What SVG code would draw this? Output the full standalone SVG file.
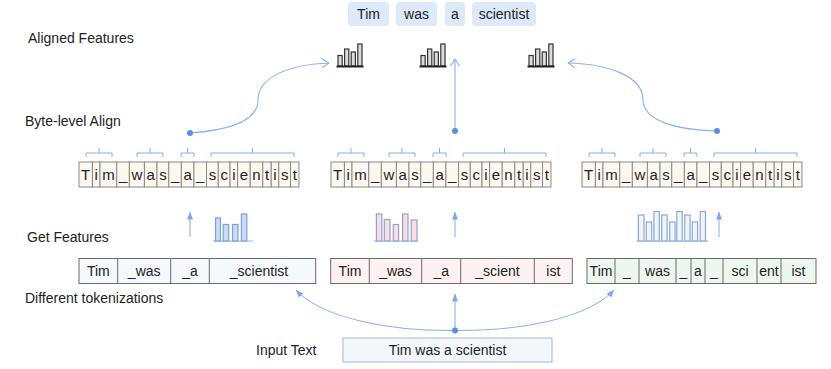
<svg xmlns="http://www.w3.org/2000/svg" width="831" height="369" viewBox="0 0 831 369">
<style>
text{font-family:"Liberation Sans",Arial,sans-serif;fill:#222}
.lbl{font-size:14px}
.tok{font-size:14px;text-anchor:middle}
.b{font-size:15px;text-anchor:middle}
.top{fill:#dde8f8}
.bc{fill:#fdf8ef;stroke:#8a8a8a;stroke-width:1}
.brk{fill:none;stroke:#86aee8;stroke-width:1}
.tc{stroke:#6a6a6a;stroke-width:1}
.ln{fill:none;stroke:#8ab0ee;stroke-width:1.1}
.dot{fill:#5a8ee6}
.ib{fill:#dcdcdc;stroke:#333;stroke-width:1.2}
.blue{fill:#c9dbf6;stroke:#7e9fd8;stroke-width:1.2}
.pink{fill:#f9dde0;stroke:#8ea3d3;stroke-width:1.2}
.hol{fill:#eff5fc;stroke:#8ea8d6;stroke-width:1.2}
.base{stroke:#c6d8f3;stroke-width:2}
</style>
<defs>
<marker id="af" viewBox="0 0 8 6" refX="7.5" refY="3" markerWidth="8" markerHeight="6" markerUnits="userSpaceOnUse" orient="auto">
<path d="M0,0 L8,3 L0,6 z" fill="#7ea8ec"/>
</marker>
<marker id="ao" viewBox="0 0 8 10" refX="7.5" refY="5" markerWidth="8" markerHeight="10" markerUnits="userSpaceOnUse" orient="auto">
<path d="M0.5,0.5 L7.5,5 L0.5,9.5" fill="none" stroke="#8ab0ee" stroke-width="1.1"/>
</marker>
</defs>

<g id="labels">
<text class="lbl" x="28" y="43">Aligned Features</text>
<text class="lbl" x="25" y="126">Byte-level Align</text>
<text class="lbl" x="27" y="242">Get Features</text>
<text class="lbl" x="25" y="303">Different tokenizations</text>
<text class="lbl" x="256" y="355">Input Text</text>
</g>

<g id="top-tokens">
<rect class="top" x="348" y="2" width="41" height="24" rx="4"/>
<rect class="top" x="396" y="2" width="41" height="24" rx="4"/>
<rect class="top" x="445" y="2" width="20" height="24" rx="4"/>
<rect class="top" x="472" y="2" width="64" height="24" rx="4"/>
<text class="tok" x="368.5" y="19">Tim</text>
<text class="tok" x="416.5" y="19">was</text>
<text class="tok" x="455" y="19">a</text>
<text class="tok" x="504" y="19">scientist</text>
</g>

<g id="aligned-icon-1" transform="translate(337,44)">
<rect class="ib" x="1" y="11.5" width="4.2" height="10.5"/>
<rect class="ib" x="7.6" y="5" width="4.2" height="17"/>
<rect class="ib" x="14.2" y="8" width="4.2" height="14"/>
<rect class="ib" x="20.8" y="0" width="4.2" height="22"/>
<line x1="-0.5" y1="22.5" x2="26.5" y2="22.5" stroke="#222" stroke-width="2"/>
</g>
<g id="aligned-icon-2" transform="translate(420,44)">
<rect class="ib" x="1" y="11.5" width="4.2" height="10.5"/>
<rect class="ib" x="7.6" y="5" width="4.2" height="17"/>
<rect class="ib" x="14.2" y="8" width="4.2" height="14"/>
<rect class="ib" x="20.8" y="0" width="4.2" height="22"/>
<line x1="-0.5" y1="22.5" x2="26.5" y2="22.5" stroke="#222" stroke-width="2"/>
</g>
<g id="aligned-icon-3" transform="translate(528,44)">
<rect class="ib" x="1" y="11.5" width="4.2" height="10.5"/>
<rect class="ib" x="7.6" y="5" width="4.2" height="17"/>
<rect class="ib" x="14.2" y="8" width="4.2" height="14"/>
<rect class="ib" x="20.8" y="0" width="4.2" height="22"/>
<line x1="-0.5" y1="22.5" x2="26.5" y2="22.5" stroke="#222" stroke-width="2"/>
</g>

<g id="byte-row-1" transform="translate(79,162)">
<path class="brk" d="M7,-5V-9H33V-5M20,-9V-14M58,-5V-9H84V-5M71,-9V-14M102,-5V-9H115V-5M108.5,-9V-14M132,-5V-9H215V-5M173.5,-9V-14"/>
<rect class="bc" x="0" y="0" width="13.42" height="25"/><rect class="bc" x="13.42" y="0" width="7.58" height="25"/><rect class="bc" x="21" y="0" width="16.75" height="25"/><rect class="bc" x="37.75" y="0" width="12.59" height="25"/><rect class="bc" x="50.34" y="0" width="15.08" height="25"/><rect class="bc" x="65.42" y="0" width="12.59" height="25"/><rect class="bc" x="78.01" y="0" width="11.75" height="25"/><rect class="bc" x="89.76" y="0" width="12.59" height="25"/><rect class="bc" x="102.35" y="0" width="12.59" height="25"/><rect class="bc" x="114.94" y="0" width="12.59" height="25"/><rect class="bc" x="127.53" y="0" width="11.75" height="25"/><rect class="bc" x="139.28" y="0" width="11.75" height="25"/><rect class="bc" x="151.03" y="0" width="7.58" height="25"/><rect class="bc" x="158.61" y="0" width="12.59" height="25"/><rect class="bc" x="171.2" y="0" width="12.59" height="25"/><rect class="bc" x="183.79" y="0" width="8.42" height="25"/><rect class="bc" x="192.21" y="0" width="7.58" height="25"/><rect class="bc" x="199.79" y="0" width="11.75" height="25"/><rect class="bc" x="211.54" y="0" width="8.42" height="25"/>
<text class="b" y="18"><tspan x="6.71">T</tspan><tspan x="17.21">i</tspan><tspan x="29.38">m</tspan><tspan x="44.05">_</tspan><tspan x="57.88">w</tspan><tspan x="71.72">a</tspan><tspan x="83.89">s</tspan><tspan x="96.06">_</tspan><tspan x="108.65">a</tspan><tspan x="121.24">_</tspan><tspan x="133.41">s</tspan><tspan x="145.16">c</tspan><tspan x="154.82">i</tspan><tspan x="164.91">e</tspan><tspan x="177.5">n</tspan><tspan x="188">t</tspan><tspan x="196">i</tspan><tspan x="205.67">s</tspan><tspan x="215.75">t</tspan></text>
</g>

<g id="byte-row-2" transform="translate(331,162)">
<path class="brk" d="M7,-5V-9H33V-5M20,-9V-14M58,-5V-9H84V-5M71,-9V-14M102,-5V-9H115V-5M108.5,-9V-14M132,-5V-9H215V-5M173.5,-9V-14"/>
<rect class="bc" x="0" y="0" width="13.42" height="25"/><rect class="bc" x="13.42" y="0" width="7.58" height="25"/><rect class="bc" x="21" y="0" width="16.75" height="25"/><rect class="bc" x="37.75" y="0" width="12.59" height="25"/><rect class="bc" x="50.34" y="0" width="15.08" height="25"/><rect class="bc" x="65.42" y="0" width="12.59" height="25"/><rect class="bc" x="78.01" y="0" width="11.75" height="25"/><rect class="bc" x="89.76" y="0" width="12.59" height="25"/><rect class="bc" x="102.35" y="0" width="12.59" height="25"/><rect class="bc" x="114.94" y="0" width="12.59" height="25"/><rect class="bc" x="127.53" y="0" width="11.75" height="25"/><rect class="bc" x="139.28" y="0" width="11.75" height="25"/><rect class="bc" x="151.03" y="0" width="7.58" height="25"/><rect class="bc" x="158.61" y="0" width="12.59" height="25"/><rect class="bc" x="171.2" y="0" width="12.59" height="25"/><rect class="bc" x="183.79" y="0" width="8.42" height="25"/><rect class="bc" x="192.21" y="0" width="7.58" height="25"/><rect class="bc" x="199.79" y="0" width="11.75" height="25"/><rect class="bc" x="211.54" y="0" width="8.42" height="25"/>
<text class="b" y="18"><tspan x="6.71">T</tspan><tspan x="17.21">i</tspan><tspan x="29.38">m</tspan><tspan x="44.05">_</tspan><tspan x="57.88">w</tspan><tspan x="71.72">a</tspan><tspan x="83.89">s</tspan><tspan x="96.06">_</tspan><tspan x="108.65">a</tspan><tspan x="121.24">_</tspan><tspan x="133.41">s</tspan><tspan x="145.16">c</tspan><tspan x="154.82">i</tspan><tspan x="164.91">e</tspan><tspan x="177.5">n</tspan><tspan x="188">t</tspan><tspan x="196">i</tspan><tspan x="205.67">s</tspan><tspan x="215.75">t</tspan></text>
</g>

<g id="byte-row-3" transform="translate(582,162)">
<path class="brk" d="M7,-5V-9H33V-5M20,-9V-14M58,-5V-9H84V-5M71,-9V-14M102,-5V-9H115V-5M108.5,-9V-14M132,-5V-9H215V-5M173.5,-9V-14"/>
<rect class="bc" x="0" y="0" width="13.42" height="25"/><rect class="bc" x="13.42" y="0" width="7.58" height="25"/><rect class="bc" x="21" y="0" width="16.75" height="25"/><rect class="bc" x="37.75" y="0" width="12.59" height="25"/><rect class="bc" x="50.34" y="0" width="15.08" height="25"/><rect class="bc" x="65.42" y="0" width="12.59" height="25"/><rect class="bc" x="78.01" y="0" width="11.75" height="25"/><rect class="bc" x="89.76" y="0" width="12.59" height="25"/><rect class="bc" x="102.35" y="0" width="12.59" height="25"/><rect class="bc" x="114.94" y="0" width="12.59" height="25"/><rect class="bc" x="127.53" y="0" width="11.75" height="25"/><rect class="bc" x="139.28" y="0" width="11.75" height="25"/><rect class="bc" x="151.03" y="0" width="7.58" height="25"/><rect class="bc" x="158.61" y="0" width="12.59" height="25"/><rect class="bc" x="171.2" y="0" width="12.59" height="25"/><rect class="bc" x="183.79" y="0" width="8.42" height="25"/><rect class="bc" x="192.21" y="0" width="7.58" height="25"/><rect class="bc" x="199.79" y="0" width="11.75" height="25"/><rect class="bc" x="211.54" y="0" width="8.42" height="25"/>
<text class="b" y="18"><tspan x="6.71">T</tspan><tspan x="17.21">i</tspan><tspan x="29.38">m</tspan><tspan x="44.05">_</tspan><tspan x="57.88">w</tspan><tspan x="71.72">a</tspan><tspan x="83.89">s</tspan><tspan x="96.06">_</tspan><tspan x="108.65">a</tspan><tspan x="121.24">_</tspan><tspan x="133.41">s</tspan><tspan x="145.16">c</tspan><tspan x="154.82">i</tspan><tspan x="164.91">e</tspan><tspan x="177.5">n</tspan><tspan x="188">t</tspan><tspan x="196">i</tspan><tspan x="205.67">s</tspan><tspan x="215.75">t</tspan></text>
</g>

<g id="features-1">
<line class="base" x1="213" y1="241" x2="253" y2="241"/>
<rect class="blue" x="215.5" y="218" width="5" height="23"/>
<rect class="blue" x="223.2" y="224.5" width="5.5" height="16.5"/>
<rect class="blue" x="232.5" y="224.5" width="5.5" height="16.5"/>
<rect class="blue" x="241.4" y="214" width="5.4" height="27"/>
</g>
<g id="features-2">
<line class="base" x1="373.5" y1="241" x2="418.5" y2="241"/>
<rect class="pink" x="376.4" y="214" width="5.4" height="27"/>
<rect class="pink" x="384.3" y="219.5" width="5.7" height="21.5"/>
<rect class="pink" x="393.3" y="224.5" width="5.3" height="16.5"/>
<rect class="pink" x="402.6" y="214" width="5.4" height="27"/>
<rect class="pink" x="411.2" y="220" width="5.8" height="21"/>
</g>
<g id="features-3">
<line class="base" x1="636.5" y1="241" x2="708.5" y2="241"/>
<rect class="hol" x="638.4" y="215" width="5.6" height="26"/>
<rect class="hol" x="646.3" y="222" width="5.4" height="19"/>
<rect class="hol" x="653.9" y="211.5" width="5.4" height="29.5"/>
<rect class="hol" x="661.7" y="215" width="5.4" height="26"/>
<rect class="hol" x="669.7" y="222" width="5.4" height="19"/>
<rect class="hol" x="676.8" y="211.5" width="5.4" height="29.5"/>
<rect class="hol" x="684.7" y="215" width="5.4" height="26"/>
<rect class="hol" x="692.3" y="222" width="5.3" height="19"/>
<rect class="hol" x="700.2" y="211.5" width="5.3" height="29.5"/>
</g>

<g id="tokens-1" transform="translate(0,258.5)">
<rect x="79" y="0" width="236.7" height="25" fill="#f5f8fc" stroke="#6a6a6a"/>
<line class="tc" x1="117.7" y1="0" x2="117.7" y2="25"/><line class="tc" x1="170.7" y1="0" x2="170.7" y2="25"/><line class="tc" x1="209.3" y1="0" x2="209.3" y2="25"/>
<text class="tok" y="17.5"><tspan x="98.3">Tim</tspan><tspan x="144.2">_was</tspan><tspan x="190">_a</tspan><tspan x="259">_scientist</tspan></text>
</g>
<g id="tokens-2" transform="translate(0,258.5)">
<rect x="330.7" y="0" width="241.6" height="25" fill="#fdf1f1" stroke="#6a6a6a"/>
<line class="tc" x1="369.3" y1="0" x2="369.3" y2="25"/><line class="tc" x1="421.7" y1="0" x2="421.7" y2="25"/><line class="tc" x1="460.7" y1="0" x2="460.7" y2="25"/><line class="tc" x1="534.3" y1="0" x2="534.3" y2="25"/>
<text class="tok" y="17.5"><tspan x="350">Tim</tspan><tspan x="395.5">_was</tspan><tspan x="441.2">_a</tspan><tspan x="497.5">_scient</tspan><tspan x="553.3">ist</tspan></text>
</g>
<g id="tokens-3" transform="translate(0,258.5)">
<rect x="587" y="0" width="229" height="25" fill="#eef6f0" stroke="#6a6a6a"/>
<line class="tc" x1="615" y1="0" x2="615" y2="25"/><line class="tc" x1="639" y1="0" x2="639" y2="25"/><line class="tc" x1="676" y1="0" x2="676" y2="25"/><line class="tc" x1="691" y1="0" x2="691" y2="25"/><line class="tc" x1="705" y1="0" x2="705" y2="25"/><line class="tc" x1="723" y1="0" x2="723" y2="25"/><line class="tc" x1="757" y1="0" x2="757" y2="25"/><line class="tc" x1="781" y1="0" x2="781" y2="25"/>
<text class="tok" y="17.5"><tspan x="601">Tim</tspan><tspan x="627">_</tspan><tspan x="657.5">was</tspan><tspan x="683.5">_</tspan><tspan x="698">a</tspan><tspan x="714">_</tspan><tspan x="740">sci</tspan><tspan x="769">ent</tspan><tspan x="798.5">ist</tspan></text>
</g>

<g id="input-text">
<rect x="343" y="338" width="209" height="24" fill="#f3f6fb" stroke="#a9b7cc"/>
<text class="tok" x="447.5" y="355">Tim was a scientist</text>
</g>

<g id="connectors">
<path class="ln" d="M190,133 C232,130 258,120 258,100 C258,76 292,64 329,63" marker-end="url(#ao)"/>
<path class="ln" d="M455,131 L455,59" marker-end="url(#ao)"/>
<path class="ln" d="M717,131 C675,130 643,120 643,100 C643,76 608,64 568,63" marker-end="url(#ao)"/>
<circle class="dot" cx="190" cy="133" r="3"/>
<circle class="dot" cx="455" cy="131" r="3"/>
<circle class="dot" cx="717" cy="131" r="3"/>
<path class="ln" d="M190,237 L190,212" marker-end="url(#af)"/>
<path class="ln" d="M455,237 L455,212" marker-end="url(#af)"/>
<path class="ln" d="M719,237 L719,212" marker-end="url(#af)"/>
<path class="ln" d="M455,330.5 C388,331 322,318 296,290" marker-end="url(#af)"/>
<path class="ln" d="M455,330.5 C522,331 588,318 614,290" marker-end="url(#af)"/>
<path class="ln" d="M455,330.5 L455,294" marker-end="url(#af)"/>
<circle class="dot" cx="455" cy="330.5" r="3"/>
</g>
</svg>
